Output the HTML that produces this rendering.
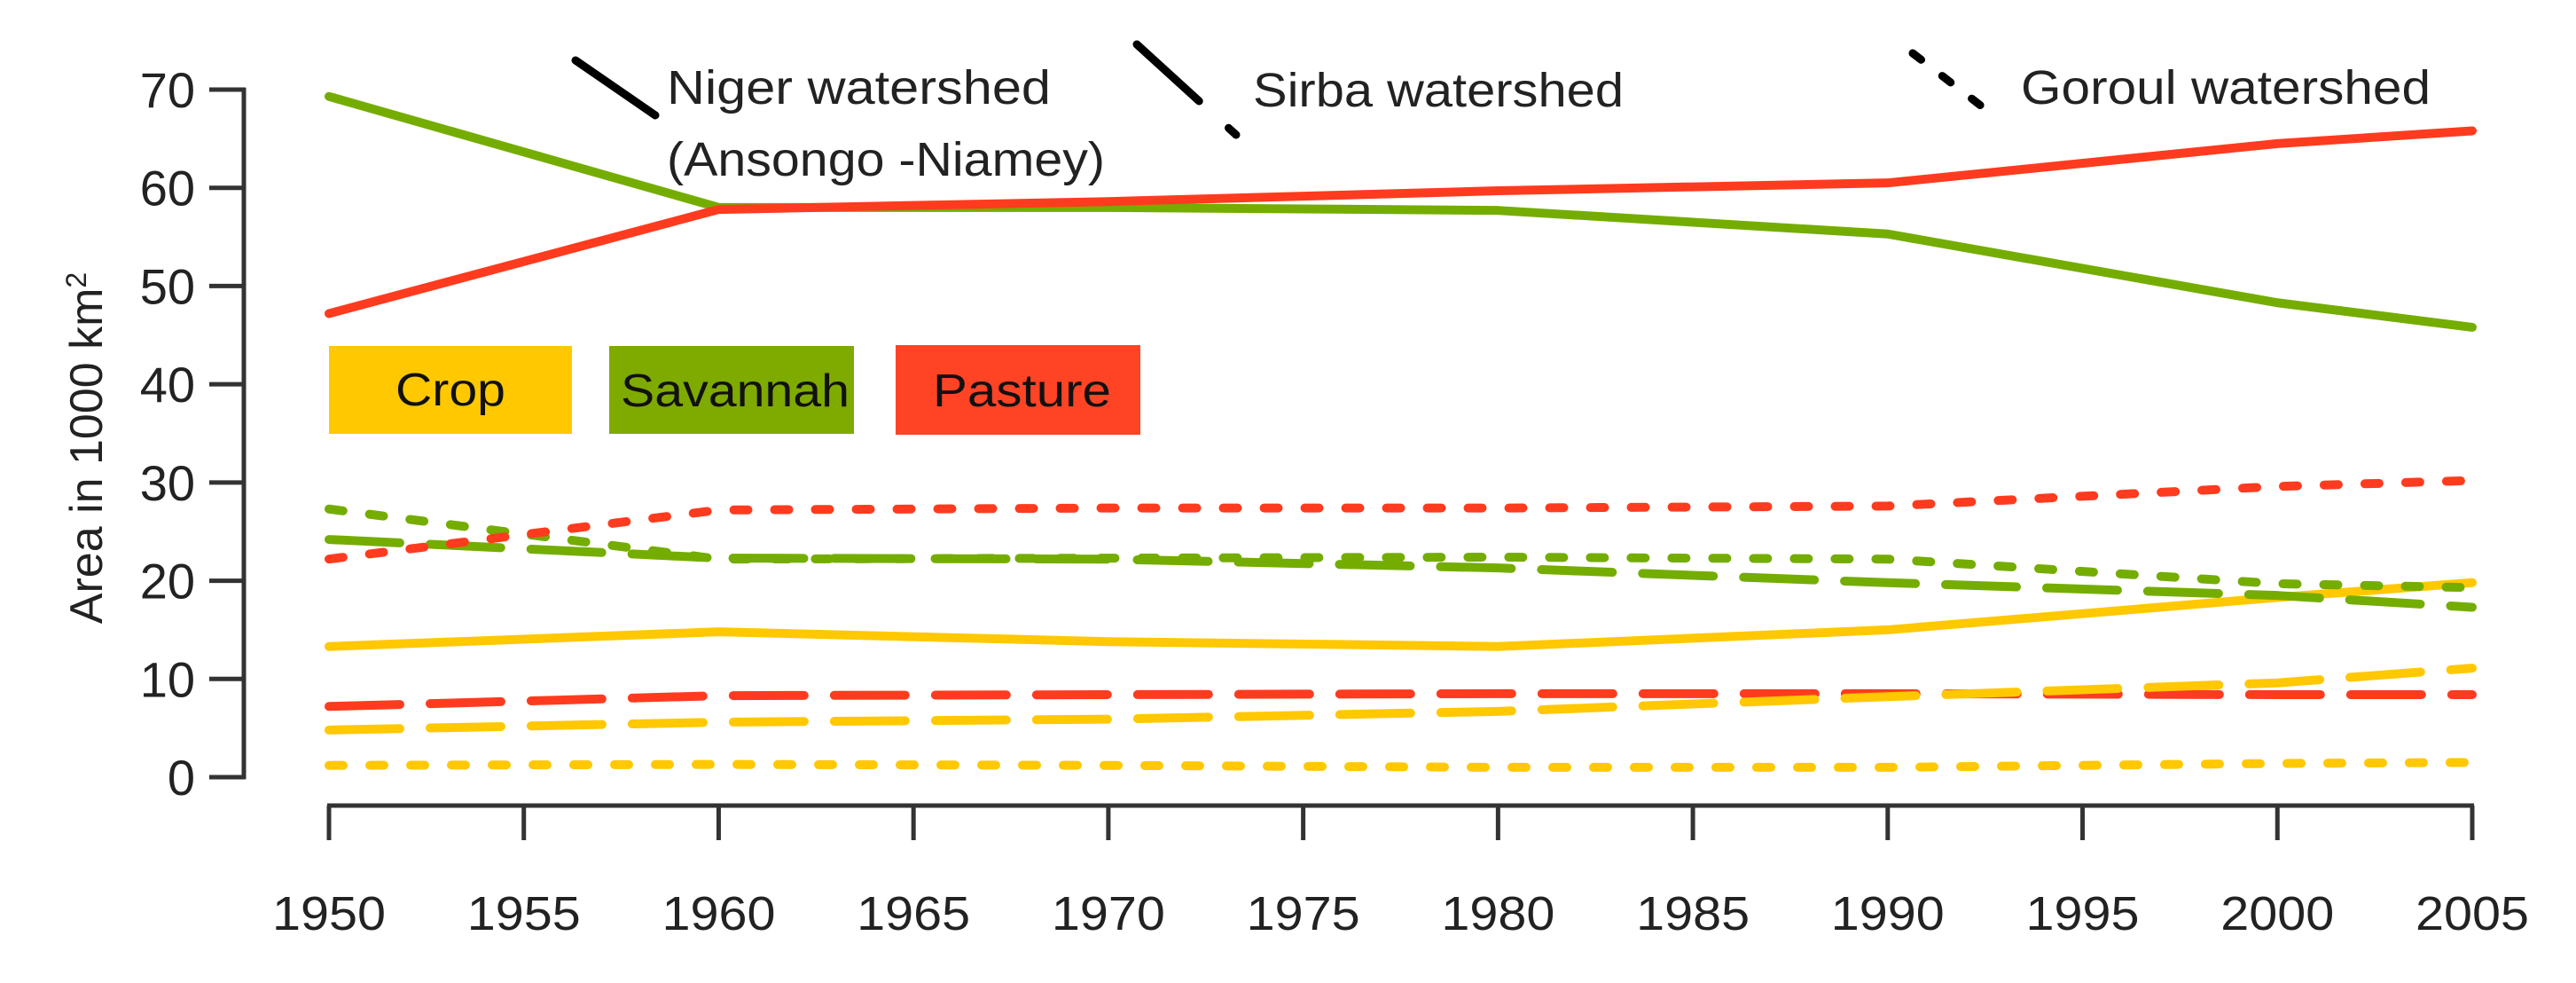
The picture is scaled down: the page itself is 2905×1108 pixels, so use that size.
<!DOCTYPE html>
<html><head><meta charset="utf-8">
<style>
html,body{margin:0;padding:0;background:#fff;}
svg{display:block;font-family:"Liberation Sans","DejaVu Sans",sans-serif;}
</style></head>
<body>
<svg id="chart" width="2905" height="1108" viewBox="0 0 2905 1108">
<g id="axes"></g>
<g id="series"></g>
<g id="legend">
  <rect x="371" y="390" width="274" height="99" fill="#ffc800"/>
  <text x="446" y="457" font-size="52" textLength="124" lengthAdjust="spacingAndGlyphs" fill="#111">Crop</text>
  <rect x="687" y="390" width="276" height="99" fill="#7faa00"/>
  <text x="700" y="458" font-size="52" textLength="258" lengthAdjust="spacingAndGlyphs" fill="#111">Savannah</text>
  <rect x="1010" y="389" width="276" height="101" fill="#ff4325"/>
  <text x="1052" y="458" font-size="52" textLength="201" lengthAdjust="spacingAndGlyphs" fill="#111">Pasture</text>

  <line x1="649" y1="68" x2="739" y2="130" stroke="#000" stroke-width="9" stroke-linecap="round"/>
  <text x="752" y="117" font-size="54" textLength="433" lengthAdjust="spacingAndGlyphs" fill="#222">Niger watershed</text>
  <text x="752" y="198" font-size="54" textLength="494" lengthAdjust="spacingAndGlyphs" fill="#222">(Ansongo -Niamey)</text>
  <line x1="1282" y1="50" x2="1394" y2="152" stroke="#000" stroke-width="9" stroke-linecap="round" stroke-dasharray="95 45"/>
  <text x="1413" y="120" font-size="54" textLength="418" lengthAdjust="spacingAndGlyphs" fill="#222">Sirba watershed</text>
  <line x1="2157" y1="60" x2="2248" y2="130" stroke="#000" stroke-width="9" stroke-linecap="round" stroke-dasharray="12 30"/>
  <text x="2279" y="117" font-size="54" textLength="462" lengthAdjust="spacingAndGlyphs" fill="#222">Goroul watershed</text>
</g>
</svg>
<script>
const years = [1950, 1960, 1970, 1980, 1990, 2000, 2005];
const nigerSavannah = [69.3, 58, 58, 57.7, 55.3, 48.3, 45.8];
const nigerPasture = [47.2, 57.8, 58.6, 59.7, 60.5, 64.5, 65.8];
const nigerCrop = [13.3, 14.8, 13.8, 13.3, 15, 18.3, 19.8];
const sirbaSavannah = [24.2, 22.3, 22.2, 21.3, 19.8, 18.5, 17.3];
const sirbaPasture = [7.2, 8.3, 8.4, 8.5, 8.5, 8.4, 8.4];
const sirbaCrop = [4.8, 5.6, 5.9, 6.7, 8.2, 9.6, 11.1];
const goroulSavannah = [27.3, 22.2, 22.3, 22.4, 22.2, 19.7, 19.3];
const goroulPasture = [22.2, 27.2, 27.4, 27.4, 27.6, 29.6, 30.2];
const goroulCrop = [1.2, 1.3, 1.2, 1.0, 1.0, 1.4, 1.5];
const yTicks = [0, 10, 20, 30, 40, 50, 60, 70];
const xTicks = [1950, 1955, 1960, 1965, 1970, 1975, 1980, 1985, 1990, 1995, 2000, 2005];

const NS = 'http://www.w3.org/2000/svg';
const X0 = 371, X1 = 2788, Y0 = 876, Y70 = 101;
function xs(yr){ return X0 + (yr - 1950) / 55 * (X1 - X0); }
function ys(v){ return Y0 - v / 70 * (Y0 - Y70); }
function mk(tag, attrs, parent){
  const e = document.createElementNS(NS, tag);
  for (const k in attrs) e.setAttribute(k, attrs[k]);
  parent.appendChild(e);
  return e;
}
const axes = document.getElementById('axes');
const ax = mk('path', {d:`M275 ${ys(70)-2} V${ys(0)+2}`, stroke:'#333', 'stroke-width':5, fill:'none'}, axes);


yTicks.forEach(t => {
  const l = mk('line', {x1:236, x2:277, y1:ys(t), y2:ys(t), stroke:'#333', 'stroke-width':5}, axes);
  
  
  const tx = mk('text', {x:220, y:ys(t)+20, 'font-size':56, 'text-anchor':'end', fill:'#222'}, axes);
  tx.textContent = t;
  
  
});
const xa = mk('line', {x1:X0-2, x2:X1+2, y1:908, y2:908, stroke:'#333', 'stroke-width':5}, axes);


xTicks.forEach(t => {
  const l = mk('line', {x1:xs(t), x2:xs(t), y1:908, y2:947, stroke:'#333', 'stroke-width':5}, axes);
  
  
  const tx = mk('text', {x:xs(t), y:1048, 'font-size':54, 'text-anchor':'middle', fill:'#222', textLength:128, lengthAdjust:'spacingAndGlyphs'}, axes);
  tx.textContent = t;
  
  
});
const yt = mk('text', {x:0, y:0, 'font-size':52, 'text-anchor':'middle', fill:'#222', transform:'translate(115,505) rotate(-90)'}, axes);
yt.innerHTML = 'Area in 1000 km<tspan dy="-18" font-size="32">2</tspan>';



const RED = '#ff3b1f', GREEN = '#74ad00', YEL = '#ffc800';
const seriesList = [
  [nigerSavannah, GREEN, '', 'niger-savannah-line'],
  [nigerPasture, RED, '', 'niger-pasture-line'],
  [nigerCrop, YEL, '', 'niger-crop-line'],
  [sirbaSavannah, GREEN, '80 34', 'sirba-savannah-line'],
  [sirbaPasture, RED, '80 34', 'sirba-pasture-line'],
  [sirbaCrop, YEL, '80 34', 'sirba-crop-line'],
  [goroulSavannah, GREEN, '16 30', 'goroul-savannah-line'],
  [goroulPasture, RED, '16 30', 'goroul-pasture-line'],
  [goroulCrop, YEL, '16 30', 'goroul-crop-line']
];
const sg = document.getElementById('series');
seriesList.forEach(s => {
  const d = s[0].map((v,i) => (i ? 'L' : 'M') + xs(years[i]) + ' ' + ys(v)).join(' ');
  const a = {d:d, stroke:s[1], 'stroke-width':10, fill:'none', 'stroke-linejoin':'round', 'stroke-linecap':'round'};
  if (s[2]) a['stroke-dasharray'] = s[2];
  const p = mk('path', a, sg);
  
  
});
</script>
</body></html>
